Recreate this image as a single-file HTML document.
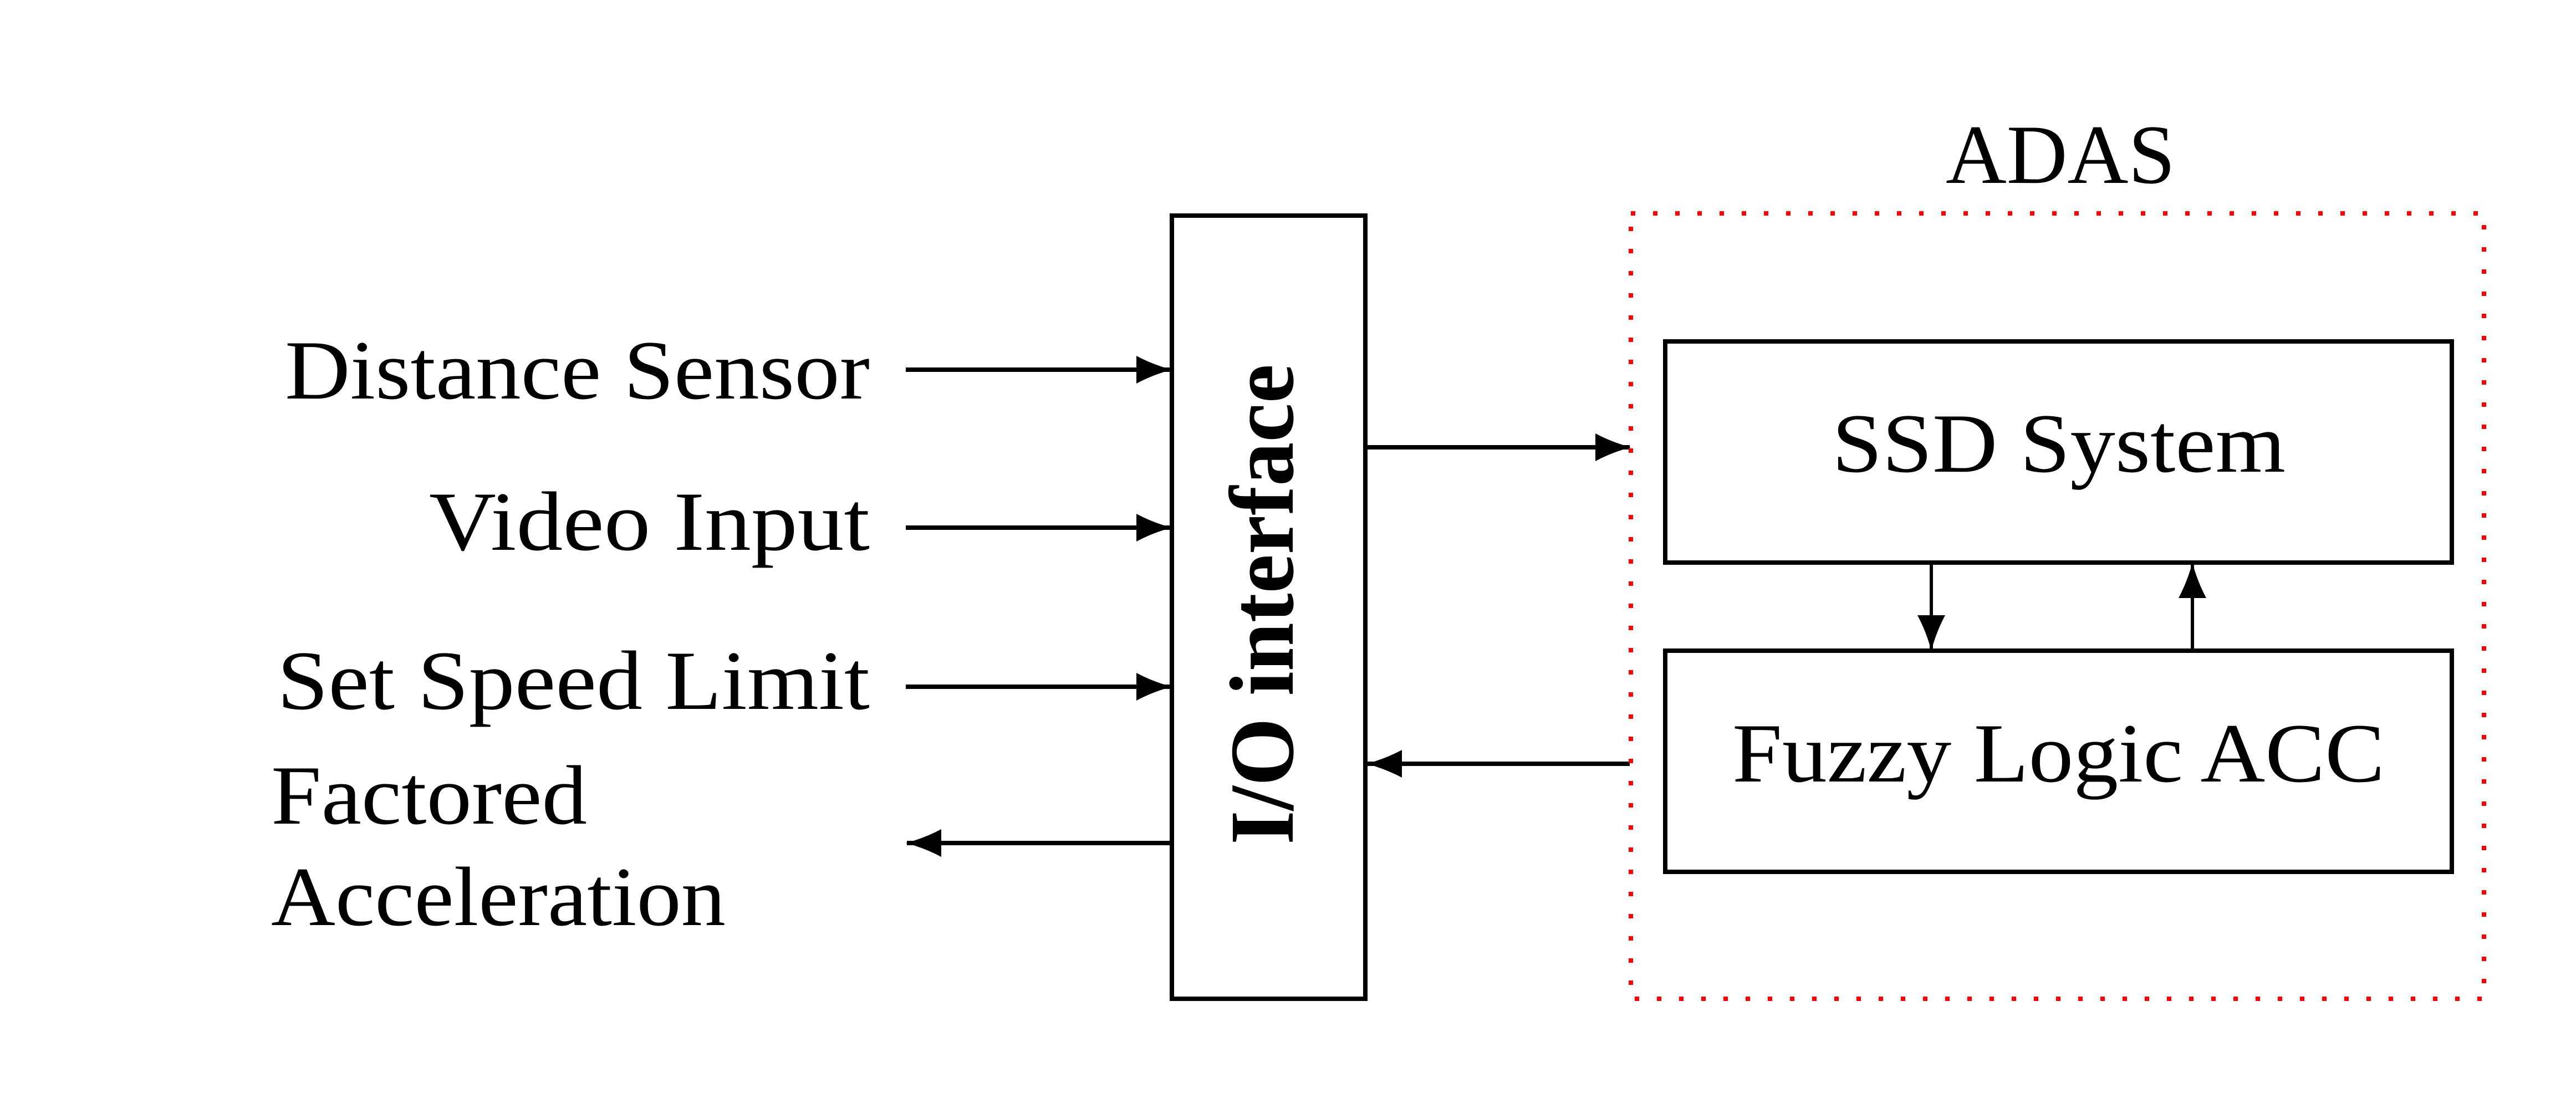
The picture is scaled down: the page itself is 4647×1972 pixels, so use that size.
<!DOCTYPE html>
<html><head><meta charset="utf-8"><style>html,body{margin:0;padding:0;background:#fff}svg{display:block}</style></head>
<body>
<svg width="4647" height="1972" viewBox="0 0 4647 1972" xmlns="http://www.w3.org/2000/svg">
<defs>
<marker id="ah" markerWidth="66" markerHeight="54" refX="62" refY="27" markerUnits="userSpaceOnUse" orient="auto">
<path d="M0,2 Q30,18 64,27 Q30,36 0,52 Z" fill="#000"/>
</marker>
</defs>
<g font-family="'Liberation Serif', serif" font-size="152" fill="#000">
<text x="514" y="719" textLength="1055" lengthAdjust="spacingAndGlyphs">Distance Sensor</text>
<text x="774" y="992" textLength="795" lengthAdjust="spacingAndGlyphs">Video Input</text>
<text x="500" y="1279" textLength="1069" lengthAdjust="spacingAndGlyphs">Set Speed Limit</text>
<text x="489" y="1486" textLength="570" lengthAdjust="spacingAndGlyphs">Factored</text>
<text x="489" y="1669" textLength="820" lengthAdjust="spacingAndGlyphs">Acceleration</text>
<text x="3510" y="330" textLength="414" lengthAdjust="spacingAndGlyphs">ADAS</text>
<text x="3305" y="851" textLength="818" lengthAdjust="spacingAndGlyphs">SSD System</text>
<text x="3125" y="1410" textLength="1177" lengthAdjust="spacingAndGlyphs">Fuzzy Logic ACC</text>
<text transform="translate(2332,1524) rotate(-90)" font-weight="bold" font-size="165" textLength="867" lengthAdjust="spacingAndGlyphs">I/O interface</text>
</g>
<g stroke="#000" stroke-width="8" fill="none">
<rect x="2114" y="389" width="349" height="1413"/>
<rect x="3004" y="616" width="1419" height="399"/>
<rect x="3004" y="1174" width="1419" height="399"/>
<line x1="1634" y1="667" x2="2112" y2="667" marker-end="url(#ah)"/>
<line x1="1634" y1="952" x2="2112" y2="952" marker-end="url(#ah)"/>
<line x1="1634" y1="1239" x2="2112" y2="1239" marker-end="url(#ah)"/>
<line x1="2112" y1="1521" x2="1636" y2="1521" marker-end="url(#ah)"/>
<line x1="2465" y1="807" x2="2940" y2="807" marker-end="url(#ah)"/>
<line x1="2940" y1="1378" x2="2467" y2="1378" marker-end="url(#ah)"/>
<line x1="3484" y1="1017" x2="3484" y2="1172" marker-end="url(#ah)" stroke-width="6"/>
<line x1="3955" y1="1172" x2="3955" y2="1017" marker-end="url(#ah)" stroke-width="6"/>
</g>
<rect x="2942" y="385" width="1539" height="1417" fill="none" stroke="#f00" stroke-width="8" stroke-dasharray="8 32"/>
</svg>
</body></html>
